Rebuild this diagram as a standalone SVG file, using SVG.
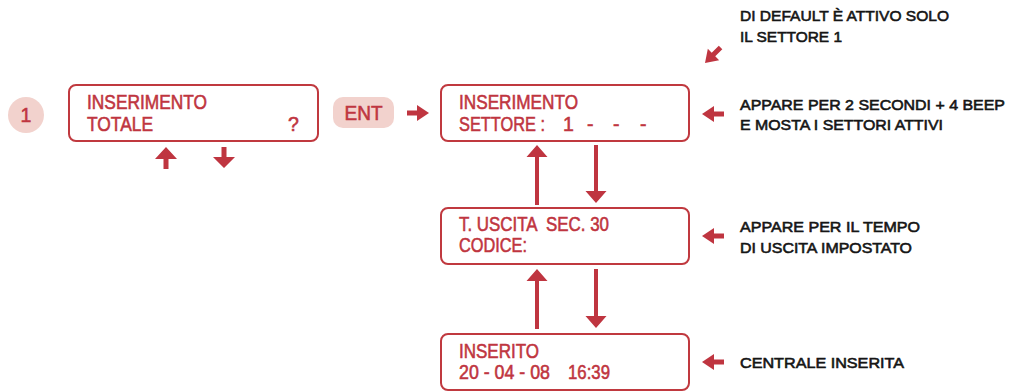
<svg xmlns="http://www.w3.org/2000/svg" xmlns:xlink="http://www.w3.org/1999/xlink" width="1010" height="392" viewBox="0 0 1010 392">
<style>
.box{fill:#fff;stroke:#C0393F;stroke-width:2}
.pill{fill:#F2D2CD}
.rt{font-family:"Liberation Sans",Arial,sans-serif;font-size:19.5px;fill:#BF3540;stroke:#BF3540;stroke-width:0.55}
.bt{font-family:"Liberation Sans",Arial,sans-serif;font-size:15.5px;fill:#151515;stroke:#151515;stroke-width:0.6}
.ar{fill:#BF3540}
</style>
<defs>
<path id="al" d="M0,0 L12,-8 L12,-2.5 L22,-2.5 L22,2.5 L12,2.5 L12,8 Z"/>
</defs>
<rect width="1010" height="392" fill="#fff"/>

<g id="n-step">
<circle class="pill" cx="26" cy="115" r="18"/>
<text class="rt" x="26" y="122" text-anchor="middle">1</text>
</g>

<g id="n-totale">
<rect class="box" x="69" y="85" width="249" height="56" rx="7"/>
<text class="rt" x="87" y="109" textLength="120" lengthAdjust="spacingAndGlyphs">INSERIMENTO</text>
<text class="rt" x="87" y="131" textLength="66" lengthAdjust="spacingAndGlyphs">TOTALE</text>
<text class="rt" x="288" y="131">?</text>
</g>

<g id="n-ent">
<rect class="pill" x="333" y="97" width="61" height="31" rx="10"/>
<text class="rt" x="363.5" y="120" text-anchor="middle" textLength="38" lengthAdjust="spacingAndGlyphs">ENT</text>
</g>

<g id="n-settore">
<rect class="box" x="441" y="85" width="248" height="56" rx="7"/>
<text class="rt" x="459" y="109" textLength="119" lengthAdjust="spacingAndGlyphs">INSERIMENTO</text>
<text class="rt" x="459" y="131" textLength="86" lengthAdjust="spacingAndGlyphs">SETTORE :</text>
<text class="rt" x="563" y="131">1</text>
<text class="rt" x="587" y="131">-</text>
<text class="rt" x="613" y="131">-</text>
<text class="rt" x="640" y="131">-</text>
</g>

<g id="n-uscita">
<rect class="box" x="441" y="208" width="248" height="56" rx="7"/>
<text class="rt" x="459" y="231" textLength="150" lengthAdjust="spacingAndGlyphs" xml:space="preserve">T. USCITA  SEC. 30</text>
<text class="rt" x="459" y="252" textLength="68" lengthAdjust="spacingAndGlyphs">CODICE:</text>
</g>

<g id="n-inserito">
<rect class="box" x="441" y="334" width="248" height="56" rx="7"/>
<text class="rt" x="459" y="358" textLength="80" lengthAdjust="spacingAndGlyphs">INSERITO</text>
<text class="rt" x="459" y="379" textLength="91" lengthAdjust="spacingAndGlyphs">20 - 04 - 08</text>
<text class="rt" x="568" y="379" textLength="42" lengthAdjust="spacingAndGlyphs">16:39</text>
</g>

<g id="notes">
<text class="bt" x="740" y="21" textLength="209" lengthAdjust="spacingAndGlyphs">DI DEFAULT È ATTIVO SOLO</text>
<text class="bt" x="740" y="42" textLength="102" lengthAdjust="spacingAndGlyphs">IL SETTORE 1</text>
<text class="bt" x="740" y="110" textLength="265" lengthAdjust="spacingAndGlyphs">APPARE PER 2 SECONDI + 4 BEEP</text>
<text class="bt" x="740" y="130" textLength="203" lengthAdjust="spacingAndGlyphs">E MOSTA I SETTORI ATTIVI</text>
<text class="bt" x="740" y="232" textLength="180" lengthAdjust="spacingAndGlyphs">APPARE PER IL TEMPO</text>
<text class="bt" x="740" y="253" textLength="172" lengthAdjust="spacingAndGlyphs">DI USCITA IMPOSTATO</text>
<text class="bt" x="740" y="368" textLength="164" lengthAdjust="spacingAndGlyphs">CENTRALE INSERITA</text>
</g>

<g id="connectors" class="ar">
<polygon points="166,147 177,159 168.5,159 168.5,169 163.5,169 163.5,159 155,159"/>
<polygon points="224,168 235,157 226.5,157 226.5,147 221.5,147 221.5,157 213,157"/>
<use xlink:href="#al" transform="translate(429,113) rotate(180)"/>
<polygon points="537,145 547.5,157 539,157 539,205 535,205 535,157 526.5,157"/>
<polygon points="596,203 606.5,191 598,191 598,145 594,145 594,191 585.5,191"/>
<polygon points="537,269 547.5,281 539,281 539,329 535,329 535,281 526.5,281"/>
<polygon points="596,328 606.5,316 598,316 598,269 594,269 594,316 585.5,316"/>
<use xlink:href="#al" transform="translate(705,63) rotate(-45)"/>
<use xlink:href="#al" transform="translate(702,114)"/>
<use xlink:href="#al" transform="translate(702,236)"/>
<use xlink:href="#al" transform="translate(702,362)"/>
</g>
</svg>
